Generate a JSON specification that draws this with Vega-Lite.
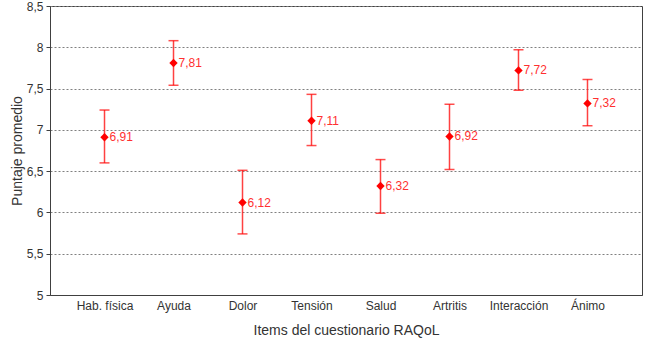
{
  "$schema": "https://vega.github.io/schema/vega-lite/v6.json",
  "autosize": "none",
  "width": 592,
  "height": 289,
  "padding": {"left": 50, "top": 6, "right": 8, "bottom": 56},
  "background": "white",
  "config": {
    "font": "Liberation Sans",
    "view": {"stroke": "#404040", "strokeWidth": 1}
  },
  "data": {
    "values": [
      {"item": "Hab. física", "mean": 6.91, "lo": 6.60, "hi": 7.24},
      {"item": "Ayuda", "mean": 7.81, "lo": 7.54, "hi": 8.08},
      {"item": "Dolor", "mean": 6.12, "lo": 5.74, "hi": 6.51},
      {"item": "Tensión", "mean": 7.11, "lo": 6.81, "hi": 7.43},
      {"item": "Salud", "mean": 6.32, "lo": 5.99, "hi": 6.64},
      {"item": "Artritis", "mean": 6.92, "lo": 6.52, "hi": 7.31},
      {"item": "Interacción", "mean": 7.72, "lo": 7.48, "hi": 7.97},
      {"item": "Ánimo", "mean": 7.32, "lo": 7.05, "hi": 7.61}
    ]
  },
  "transform": [
    {"calculate": "replace(format(datum.mean, '.2f'), '.', ',')", "as": "label"}
  ],
  "encoding": {
    "x": {
      "field": "item",
      "type": "nominal",
      "sort": null,
      "scale": {"type": "point", "padding": 0.79},
      "axis": {
        "title": "Items del cuestionario RAQoL",
        "titleFont": "Liberation Sans",
        "titleFontSize": 14,
        "titleFontWeight": "normal",
        "titleColor": "#333333",
        "titlePadding": 12,
        "labelAngle": 0,
        "labelFontSize": 12,
        "labelColor": "#333333",
        "labelPadding": 5,
        "ticks": false,
        "domain": true,
        "domainColor": "#404040",
        "grid": false
      }
    }
  },
  "layer": [
    {
      "mark": {"type": "rule", "color": "#ff2020", "strokeWidth": 1.5, "opacity": 0.85},
      "encoding": {
        "y": {
          "field": "lo",
          "type": "quantitative",
          "scale": {"domain": [5, 8.5], "nice": false, "zero": false},
          "axis": {
            "title": "Puntaje promedio",
            "titleFontSize": 14,
            "titleFontWeight": "normal",
            "titleColor": "#333333",
            "titlePadding": 2,
            "values": [5, 5.5, 6, 6.5, 7, 7.5, 8, 8.5],
            "labelExpr": "replace(toString(datum.value), '.', ',')",
            "labelFontSize": 12,
            "labelColor": "#333333",
            "labelPadding": 3,
            "tickSize": 4,
            "tickColor": "#404040",
            "domainColor": "#404040",
            "gridColor": "#808080",
            "gridDash": [2, 2],
            "gridWidth": 1
          }
        },
        "y2": {"field": "hi"}
      }
    },
    {
      "mark": {"type": "tick", "color": "#ff0000", "thickness": 1.5, "size": 10, "orient": "horizontal"},
      "encoding": {"y": {"field": "lo", "type": "quantitative"}}
    },
    {
      "mark": {"type": "tick", "color": "#ff0000", "thickness": 1.5, "size": 10, "orient": "horizontal"},
      "encoding": {"y": {"field": "hi", "type": "quantitative"}}
    },
    {
      "mark": {"type": "point", "shape": "diamond", "filled": true, "color": "#ff0000", "size": 70, "opacity": 1},
      "encoding": {"y": {"field": "mean", "type": "quantitative"}}
    },
    {
      "mark": {"type": "text", "color": "#ff3030", "fontSize": 12, "align": "left", "dx": 5, "baseline": "middle"},
      "encoding": {
        "y": {"field": "mean", "type": "quantitative"},
        "text": {"field": "label"}
      }
    }
  ]
}
